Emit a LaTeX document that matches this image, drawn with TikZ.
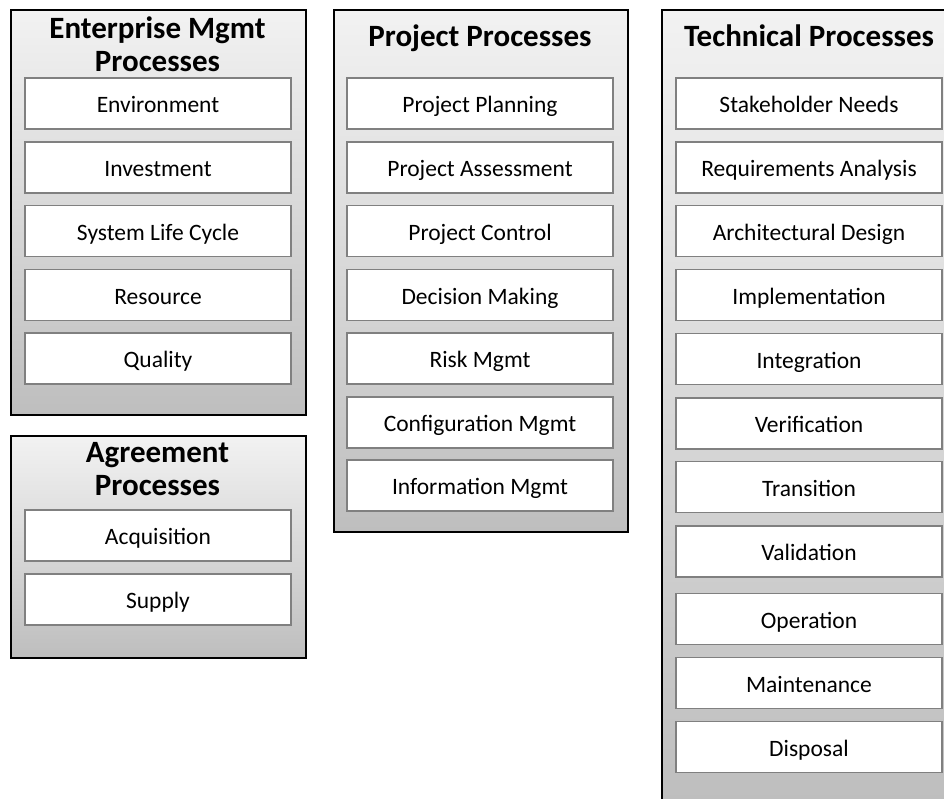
\documentclass[tikz,border=0pt]{standalone}
\usepackage{fontspec}
\setmainfont{Carlito}

\definecolor{boxtop}{RGB}{242,242,242}
\definecolor{boxbottom}{RGB}{190,190,190}
\definecolor{itemline}{RGB}{128,128,128}

\begin{document}
\begin{tikzpicture}[x=1pt,y=-1pt,
    group/.style={draw=black, line width=1.8pt, top color=boxtop, bottom color=boxbottom, anchor=north west, inner sep=0pt},
    item/.style={draw=itemline, line width=1.5pt, fill=white, minimum width=266pt, minimum height=51pt, inner sep=0pt, text height=18pt, text depth=0pt, font=\fontsize{23.5}{27}\selectfont},
    head/.style={anchor=base, inner sep=0pt, font=\fontsize{31}{33}\selectfont\bfseries}]
    \path[use as bounding box, fill=white] (0,0) rectangle (944,798);

    % enterprise
    \node[group, minimum width=295pt, minimum height=405pt] at (10,9) (entbox) {};
    \node[head] at (157.5,38) (enthead) {\begin{tabular}[t]{@{}c@{}}Enterprise Mgmt\\Processes\end{tabular}};
    \node[item] at (158,103.5) (env) {Environment};
    \node[item] at (158,167.5) (inv) {Investment};
    \node[item] at (158,231) (slc) {System Life Cycle};
    \node[item] at (158,295) (res) {Resource};
    \node[item] at (158,358.5) (qual) {Quality};

    % agreement
    \node[group, minimum width=295pt, minimum height=222pt] at (10,435) (agrbox) {};
    \node[head] at (157.5,462) (agrhead) {\begin{tabular}[t]{@{}c@{}}Agreement\\Processes\end{tabular}};
    \node[item] at (158,535.5) (acq) {Acquisition};
    \node[item] at (158,599.5) (sup) {Supply};

    % project
    \node[group, minimum width=294pt, minimum height=522pt] at (333,9) (projbox) {};
    \node[head] at (480,46) (projhead) {Project Processes};
    \node[item] at (480,103.5) (plan) {Project Planning};
    \node[item] at (480,167.5) (assess) {Project Assessment};
    \node[item] at (480,231) (ctrl) {Project Control};
    \node[item] at (480,295) (dec) {Decision Making};
    \node[item] at (480,358.5) (risk) {Risk Mgmt};
    \node[item] at (480,422.5) (conf) {Configuration Mgmt};
    \node[item] at (480,485.5) (info) {Information Mgmt};

    % technical
    \node[group, minimum width=295pt, minimum height=792pt] at (661,9) (techbox) {};
    \node[head] at (809,46) (techhead) {Technical Processes};
    \node[item] at (809,103.5) (stake) {Stakeholder Needs};
    \node[item] at (809,167.5) (req) {Requirements Analysis};
    \node[item] at (809,231) (arch) {Architectural Design};
    \node[item] at (809,295) (impl) {Implementation};
    \node[item] at (809,359) (integ) {Integration};
    \node[item] at (809,423.5) (verif) {Verification};
    \node[item] at (809,487) (trans) {Transition};
    \node[item] at (809,551.5) (valid) {Validation};
    \node[item] at (809,619) (oper) {Operation};
    \node[item] at (809,683) (maint) {Maintenance};
    \node[item] at (809,747) (disp) {Disposal};
\end{tikzpicture}
\end{document}
